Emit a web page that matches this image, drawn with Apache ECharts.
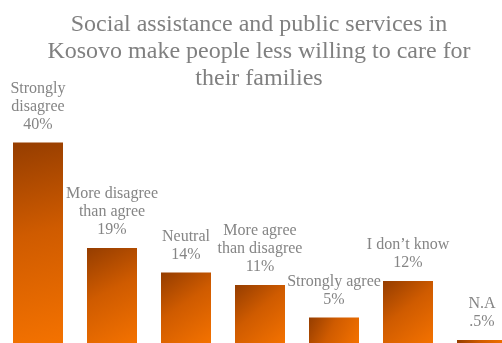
<!DOCTYPE html>
<html>
<head>
<meta charset="utf-8">
<script src="https://cdn.jsdelivr.net/npm/echarts@6/dist/echarts.min.js"></script>
<style>
  html, body { margin: 0; padding: 0; background: #fff; }
  #chart { width: 502px; height: 343px; }
</style>
</head>
<body>
<div id="chart"></div>
<script>
// categories, shown above each bar
var categories = ['Strongly\ndisagree', 'More disagree\nthan agree', 'Neutral', 'More agree\nthan disagree', 'Strongly agree', 'I don\u2019t know', 'N.A'];
// share of answers
var values = [40.1, 19, 14.1, 11.6, 5.1, 12.4, 0.6];
// percent text as printed on the chart
var pctLabels = ['40%', '19%', '14%', '11%', '5%', '12%', '.5%'];

var serif = "'Liberation Serif', 'DejaVu Serif', serif";

var chart = echarts.init(document.getElementById('chart'));

var barColor = new echarts.graphic.LinearGradient(0, 0, 1, 1, [
    { offset: 0, color: '#953d00' },
    { offset: 0.45, color: '#cf5b00' },
    { offset: 1, color: '#f47200' }
]);

chart.setOption({
    animation: false,
    title: {
        text: 'Social assistance and public services in\nKosovo make people less willing to care for\ntheir families',
        left: 259,
        top: 6,
        textAlign: 'center',
        padding: [5, 0, 5, 0],
        textStyle: {
            fontFamily: serif,
            fontSize: 24,
            fontWeight: 'normal',
            color: '#808080',
            lineHeight: 27
        }
    },
    grid: { left: 1, width: 518, top: 43, bottom: 0, outerBoundsMode: 'none' },
    xAxis: {
        type: 'category',
        data: categories,
        show: false
    },
    yAxis: {
        type: 'value',
        min: 0,
        max: 60,
        show: false
    },
    series: [{
        type: 'bar',
        barWidth: 50,
        itemStyle: { color: barColor },
        label: {
            show: true,
            position: 'top',
            distance: 9,
            fontFamily: serif,
            fontSize: 16,
            lineHeight: 18,
            color: '#858585',
            formatter: function (p) {
                return categories[p.dataIndex] + '\n' + pctLabels[p.dataIndex];
            }
        },
        data: values
    }]
});
</script>
</body>
</html>
